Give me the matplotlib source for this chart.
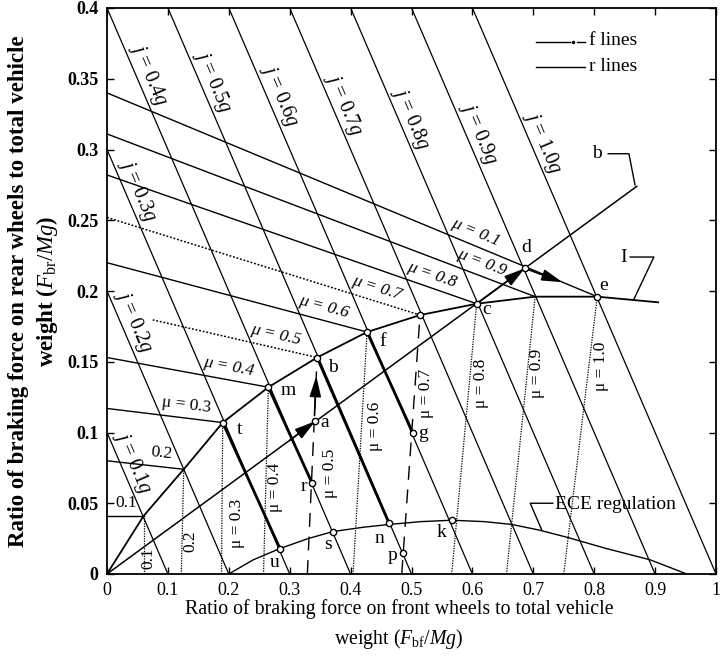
import numpy as np
import matplotlib
matplotlib.use("Agg")
import matplotlib.pyplot as plt

plt.rcParams['font.family'] = ['Liberation Serif', 'DejaVu Serif']
plt.rcParams['mathtext.fontset'] = 'custom'
plt.rcParams['mathtext.rm'] = 'Liberation Serif'
plt.rcParams['mathtext.it'] = 'Liberation Serif:italic'
plt.rcParams['mathtext.bf'] = 'Liberation Serif:bold'

# ---------------- data ----------------
mu_values = [0.1, 0.2, 0.3, 0.4, 0.5, 0.6, 0.7, 0.8, 0.9, 1.0]
# ideal braking force distribution curve I (origin, mu=0.1 ... 1.0, end)
ideal_x = [0.0, 0.060, 0.126, 0.190, 0.265, 0.345, 0.427, 0.514, 0.607, 0.703, 0.805, 0.905]
ideal_y = [0.0, 0.041, 0.074, 0.107, 0.132, 0.153, 0.171, 0.183, 0.191, 0.196, 0.196, 0.192]
# r lines: intercept on the rear axis (x = 0), end on curve I
r_intercepts = [0.041, 0.080, 0.117, 0.153, 0.187, 0.220, 0.252, 0.282, 0.311, 0.340]
# f lines: intercept on the front axis (y = 0), end on curve I
f_intercepts = [0.060, 0.122, 0.188, 0.257, 0.329, 0.404, 0.484, 0.566, 0.656, 0.750]
# constant deceleration lines j
j_values = [0.1, 0.2, 0.3, 0.4, 0.5, 0.6, 0.7, 0.8, 0.9, 1.0]
# fixed brake-force distribution line (b line), from origin
b_line_x = [0.0, 0.870]
b_line_y = [0.0, 0.274]
# ECE regulation curve
ece_x = [0.200, 0.240, 0.284, 0.330, 0.371, 0.420, 0.463, 0.515, 0.566, 0.620, 0.665, 0.710, 0.755, 0.820, 0.892, 0.952]
ece_y = [0.000, 0.010, 0.018, 0.025, 0.030, 0.033, 0.035, 0.037, 0.038, 0.037, 0.035, 0.031, 0.026, 0.018, 0.010, 0.000]
# labelled points
pt_names = ['t', 'm', 'b', 'f', 'c', 'e', 'd', 'a', 'r', 'g', 'u', 's', 'n', 'k', 'p', 'h7']
pt_x = [0.190, 0.265, 0.345, 0.427, 0.607, 0.805, 0.686, 0.342, 0.337, 0.502, 0.284, 0.371, 0.463, 0.566, 0.486, 0.514]
pt_y = [0.107, 0.132, 0.153, 0.171, 0.191, 0.196, 0.216, 0.108, 0.064, 0.100, 0.018, 0.030, 0.036, 0.038, 0.015, 0.183]

x_ticks = [0, 0.1, 0.2, 0.3, 0.4, 0.5, 0.6, 0.7, 0.8, 0.9, 1.0]
x_tick_labels = ['0', '0.1', '0.2', '0.3', '0.4', '0.5', '0.6', '0.7', '0.8', '0.9', '1']
y_ticks = [0, 0.05, 0.1, 0.15, 0.2, 0.25, 0.3, 0.35, 0.4]
y_tick_labels = ['0', '0.05', '0.1', '0.15', '0.2', '0.25', '0.3', '0.35', '0.4']

# ---------------- figure ----------------
fig = plt.figure(figsize=(7.21, 6.69), dpi=100)
ax = fig.add_axes([107/721, 1-574/669, 609/721, 566/669])
ax.set_xlim(0, 1)
ax.set_ylim(0, 0.4)

P = dict(zip(pt_names, zip(pt_x, pt_y)))
K = 'black'

# j lines
for j in j_values:
    xs = [max(0.0, j - 0.4), j]
    ys = [j - xs[0], 0.0]
    ax.plot(xs, ys, color=K, lw=0.9, solid_capstyle='butt')

# r lines
for i, m in enumerate(mu_values):
    x1, y1 = ideal_x[i+1], ideal_y[i+1]
    y0 = r_intercepts[i]
    if m in (0.5, 0.7):
        xs0 = 0.075 if m == 0.5 else 0.0
        ys0 = y0 + (y1 - y0) * xs0 / x1
        ax.plot([xs0, x1], [ys0, y1], color=K, lw=1.1, ls=(0, (1.2, 1.2)))
    else:
        ax.plot([0, x1], [y0, y1], color=K, lw=1.0)

# f lines
for i, m in enumerate(mu_values):
    x1, y1 = ideal_x[i+1], ideal_y[i+1]
    x0 = f_intercepts[i]
    if m in (0.5, 0.7):
        ax.plot([x0, x1], [0, y1], color=K, lw=1.0, ls=(0, (10, 7)))
    else:
        ax.plot([x0, x1], [0, y1], color=K, lw=0.9, ls=(0, (1.0, 1.0)))

# ideal curve I
ax.plot(ideal_x, ideal_y, color=K, lw=1.3)
# fixed ratio line
ax.plot(b_line_x, b_line_y, color=K, lw=1.1)
# ECE regulation
ax.plot(ece_x, ece_y, color=K, lw=1.0)

# thick segments
for p1, p2 in [('t', 'u'), ('m', 'r'), ('b', 'n'), ('f', 'g')]:
    ax.plot([P[p1][0], P[p2][0]], [P[p1][1], P[p2][1]], color=K, lw=2.0, solid_capstyle='butt')

# arrows
def arrow(tail, tip):
    ax.annotate('', xy=tip, xytext=tail,
                arrowprops=dict(arrowstyle='-|>,head_length=0.9,head_width=0.25',
                                mutation_scale=14, color=K, lw=1.2,
                                shrinkA=0, shrinkB=0))

slope_b = b_line_y[1] / b_line_x[1]
arrow((0.300, 0.300 * slope_b), P['a'])
fx0 = f_intercepts[4]
fdx = (ideal_x[5] - fx0) / ideal_y[5]
arrow((fx0 + fdx * 0.112, 0.112), (fx0 + fdx * 0.140, 0.140))
arrow(P['c'], P['d'])
r10 = r_intercepts[9]
r10s = (ideal_y[10] - r10) / ideal_x[10]
arrow(P['d'], (0.748, r10 + r10s * 0.748))

# markers
ax.plot(pt_x, pt_y, 'o', ms=4.5, mfc='white', mec=K, mew=1.0, zorder=5)

# point labels
lab_pos = {'t': (0.218, 0.102), 'm': (0.298, 0.130), 'b': (0.371, 0.146), 'f': (0.453, 0.164),
           'c': (0.624, 0.187), 'e': (0.816, 0.204), 'd': (0.688, 0.231), 'a': (0.358, 0.107),
           'r': (0.323, 0.062), 'g': (0.519, 0.099), 'u': (0.276, 0.008), 's': (0.363, 0.021),
           'n': (0.448, 0.025), 'k': (0.550, 0.029), 'p': (0.468, 0.013)}
for name, (lx, ly) in lab_pos.items():
    ax.text(lx, ly, name, fontsize=14, ha='center', va='center', zorder=6)

# j labels
j_label_y = [0.079, 0.178, 0.271, 0.353, 0.348, 0.338, 0.332, 0.322, 0.311, 0.305]
for j, ly in zip(j_values, j_label_y):
    lx = j - ly + 0.021
    ax.text(lx, ly, r'$j$ = %.1f$g$' % j, fontsize=14.5, rotation=-45,
            transform_rotates_text=True, rotation_mode='anchor',
            ha='center', va='center', zorder=6)

# r-line labels (along the line)
r_lab_x = [0.031, 0.089, 0.131, 0.200, 0.2775, 0.356, 0.443, 0.534, 0.616, 0.606]
r_lab_txt = ['0.1', '0.2', 'μ = 0.3', 'μ = 0.4', 'μ = 0.5', 'μ = 0.6', 'μ = 0.7',
             'μ = 0.8', 'μ = 0.9', 'μ = 0.1']
r_lab_style = ['normal', 'normal', 'normal', 'italic', 'italic', 'italic', 'italic',
               'italic', 'italic', 'italic']
for i, (lx, t, st) in enumerate(zip(r_lab_x, r_lab_txt, r_lab_style)):
    y0 = r_intercepts[i]
    s = (ideal_y[i+1] - y0) / ideal_x[i+1]
    ly = y0 + s * lx + 0.0095
    ang = np.degrees(np.arctan(s))
    ax.text(lx, ly, t, fontsize=12.5, style=st, rotation=ang,
            transform_rotates_text=True, rotation_mode='anchor',
            ha='center', va='center', zorder=6)

# f-line labels (vertical)
f_lab_x = [0.068, 0.137, 0.213, 0.276, 0.366, 0.440, 0.524, 0.614, 0.706, 0.811]
f_lab_y = [0.011, 0.023, 0.036, 0.061, 0.071, 0.104, 0.128, 0.135, 0.142, 0.147]
f_lab_txt = ['0.1', '0.2', 'μ = 0.3', 'μ = 0.4', 'μ = 0.5', 'μ = 0.6', 'μ = 0.7',
             'μ = 0.8', 'μ = 0.9', 'μ = 1.0']
for lx, ly, t in zip(f_lab_x, f_lab_y, f_lab_txt):
    ax.text(lx, ly, t, fontsize=12.5, rotation=90, rotation_mode='anchor',
            ha='center', va='center', zorder=6)

# leader labels
ax.text(0.805, 0.297, 'b', fontsize=14, ha='center', va='center')
ax.plot([0.823, 0.857, 0.867], [0.297, 0.297, 0.275], color=K, lw=1.0)
ax.text(0.849, 0.224, 'I', fontsize=14, ha='center', va='center')
ax.plot([0.859, 0.898, 0.865], [0.224, 0.224, 0.194], color=K, lw=1.0)
ax.text(0.736, 0.049, 'ECE regulation', fontsize=14, ha='left', va='center')
ax.plot([0.732, 0.695, 0.714], [0.050, 0.050, 0.031], color=K, lw=1.0)

# legend
ax.plot([0.704, 0.760], [0.376, 0.376], color=K, lw=1.0)
ax.plot([0.765], [0.376], 'o', ms=1.5, color=K)
ax.plot([0.772, 0.785], [0.376, 0.376], color=K, lw=1.0)
ax.text(0.792, 0.377, 'f lines', fontsize=14, ha='left', va='center')
ax.plot([0.704, 0.785], [0.358, 0.358], color=K, lw=1.0)
ax.text(0.792, 0.359, 'r lines', fontsize=14, ha='left', va='center')

# axes styling
ax.set_xticks(x_ticks)
ax.set_xticklabels(x_tick_labels)
ax.set_yticks(y_ticks)
ax.set_yticklabels(y_tick_labels, fontweight='bold')
ax.tick_params(direction='in', length=5, width=1.0, top=True, right=True,
               labelsize=13, pad=6)
for sp in ax.spines.values():
    sp.set_linewidth(1.3)

ax.set_xlabel('Ratio of braking force on front wheels to total vehicle\n'
              r'weight ($F_{\rm bf}/Mg$)', fontsize=14.3, linespacing=1.45)
ax.xaxis.set_label_coords(0.48, -0.09)
ax.xaxis.label.set_va('center')
ax.set_ylabel('Ratio of braking force on rear wheels to total vehicle\n'
              r'weight ($F_{\rm br}/Mg$)', fontsize=16.5, fontweight='bold', linespacing=1.3)
ax.yaxis.set_label_coords(-0.12, 0.5)
ax.yaxis.label.set_va('center')

fig.savefig('out.png', dpi=100)
